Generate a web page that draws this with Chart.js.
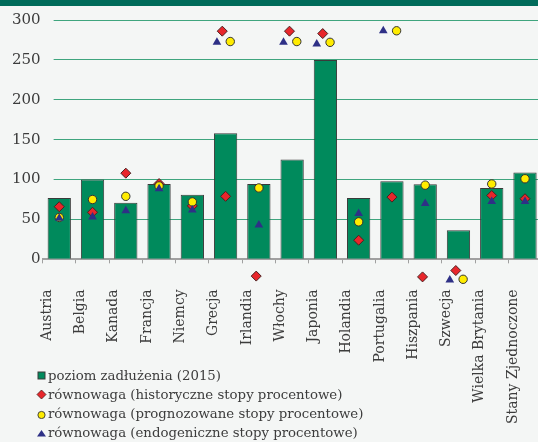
<!DOCTYPE html>
<html lang="pl">
<head>
<meta charset="UTF-8">
<title>Poziom zadłużenia i równowaga</title>
<script src="https://cdn.jsdelivr.net/npm/chart.js"></script>
<style>
  html, body { margin: 0; padding: 0; background: #f4f6f5; }
  #wrap { position: relative; width: 538px; height: 442px; overflow: hidden; background: #f4f6f5; }
  #topbar { position: absolute; left: 0; top: 0; width: 538px; height: 6px; background: #006b5a; z-index: 2; }
  #chart { position: absolute; left: 0; top: 0; }
  #legend { position: absolute; left: 36px; top: 366px; font-family: 'DejaVu Serif'; font-size: 13.3px; color: #3c3c3c; line-height: 19px; }
  #legend div { display: flex; align-items: center; white-space: nowrap; }
  #legend svg { width: 11px; height: 11px; margin-right: 1px; }
</style>
</head>
<body>
<div id="wrap">
  <div id="topbar"></div>
  <canvas id="chart" width="568" height="464"></canvas>
  <div id="legend"></div>
</div>
<script>
const kraje = ['Austria', 'Belgia', 'Kanada', 'Francja', 'Niemcy', 'Grecja', 'Irlandia', 'Włochy',
  'Japonia', 'Holandia', 'Portugalia', 'Hiszpania', 'Szwecja', 'Wielka Brytania', 'Stany Zjednoczone'];

// poziom zadłużenia (2015), % PKB
const zadluzenie = [77, 100, 71, 94.5, 81, 158, 94.5, 125, 250, 77, 98, 94, 36.5, 89.5, 109];

// równowaga - trzy warianty stóp procentowych
const historyczne = [66, 59, 108, 95, 67, 79, -21, 286, 283, 24, 78, -22, -14, 80, 76];
const historyczneDodatkowe = [null, null, null, null, null, 286, null, null, null, null, null, null, null, null, null];
const prognozowane = [52.5, 75, 79, 92, 72, 273, 89.5, 273, 272, 47, 286.5, 93, -25, 94.5, 101];
const endogeniczne = [51.5, 53, 61, 88.5, 62, 272, 43, 272, 270, 57.5, 286.5, 70, -26, 72.5, 72.5];

const etykiety = [
  'poziom zadłużenia (2015)',
  'równowaga (historyczne stopy procentowe)',
  'równowaga (prognozowane stopy procentowe)',
  'równowaga (endogeniczne stopy procentowe)'
];

// punkty poza skalą są lekko rozsunięte, żeby się nie zasłaniały
function punkty(wartosci, przesuniecie) {
  const out = [];
  wartosci.forEach((v, i) => {
    if (v === null) return;
    const poza = v > 260 || v < 0;
    out.push({ x: i + (poza ? przesuniecie : 0), y: v });
  });
  return out;
}

// linie siatki zaczynają się nieco na prawo od osi
const odstepSiatki = {
  id: 'odstepSiatki',
  beforeDatasetsDraw(chart) {
    const a = chart.chartArea, ctx = chart.ctx;
    ctx.save();
    ctx.fillStyle = '#f4f6f5';
    ctx.fillRect(a.left - 1, a.top - 2, 12, a.bottom - a.top);
    ctx.restore();
  }
};

// punkty poniżej zera leżą poza obszarem wykresu - Chart.js ich nie rysuje, więc dorysowujemy
const ponizejOsi = {
  id: 'ponizejOsi',
  afterDatasetsDraw(chart) {
    const bottom = chart.chartArea.bottom;
    chart.getSortedVisibleDatasetMetas()
      .filter(m => m.type === 'scatter')
      .sort((a, b) => b.order - a.order)
      .forEach(m => m.data.forEach(p => { if (p.y > bottom) p.draw(chart.ctx); }));
  }
};

Chart.defaults.font.family = 'DejaVu Serif';
Chart.defaults.color = '#3c3c3c';

const diament = { type: 'scatter', parsing: false, clip: false, pointStyle: 'rectRot', pointRadius: 5,
  pointBackgroundColor: '#e8262b', pointBorderColor: '#4a2020', pointBorderWidth: 1, order: 3 };

new Chart(document.getElementById('chart'), {
  type: 'bar',
  data: {
    labels: kraje,
    datasets: [
      { type: 'bar', label: etykiety[0], data: zadluzenie, backgroundColor: '#008a5c', grouped: false,
        borderColor: '#3a3a3a', borderWidth: 1, barPercentage: 0.7, categoryPercentage: 1, order: 5 },
      Object.assign({ label: etykiety[1], data: punkty(historyczne, -0.08) }, diament),
      Object.assign({ label: etykiety[1] + ' ', data: punkty(historyczneDodatkowe, -0.1) }, diament),
      { type: 'scatter', parsing: false, clip: false, label: etykiety[2], data: punkty(prognozowane, 0.14),
        pointStyle: 'circle', pointRadius: 4.2, pointBackgroundColor: '#ffec00', pointBorderColor: '#333',
        pointBorderWidth: 1, order: 2 },
      { type: 'scatter', parsing: false, clip: false, label: etykiety[3], data: punkty(endogeniczne, -0.26),
        pointStyle: 'triangle', pointRadius: 5, pointBackgroundColor: '#2e3086', pointBorderColor: '#2e3086',
        pointBorderWidth: 0, order: 1 }
    ]
  },
  options: {
    responsive: false,
    animation: false,
    layout: { padding: { left: 10, top: 20, right: 0, bottom: 14 } },
    plugins: { legend: { display: false }, tooltip: { enabled: false } },
    scales: {
      x: {
        offset: true,
        grid: { offset: true, drawOnChartArea: false, drawTicks: true, tickLength: 4, color: '#a0a0a0' },
        border: { color: '#a0a0a0', width: 2 },
        ticks: { autoSkip: false, minRotation: 90, maxRotation: 90, padding: 26, labelOffset: -12,
          font: { size: 14 } }
      },
      y: {
        min: 0, max: 300,
        ticks: { stepSize: 50, padding: 2, font: { size: 15 } },
        grid: { color: '#3fa57e', drawTicks: false },
        border: { display: false }
      }
    }
  },
  plugins: [odstepSiatki, ponizejOsi]
});

// legenda
const znaczniki = [
  '<svg viewBox="0 0 11 11"><rect x="2" y="2" width="7" height="7" fill="#008a5c" stroke="#3a3a3a" stroke-width="1"/></svg>',
  '<svg viewBox="0 0 11 11"><polygon points="5.5,1 10,5.5 5.5,10 1,5.5" fill="#e8262b" stroke="#4a2020" stroke-width="0.8"/></svg>',
  '<svg viewBox="0 0 11 11"><circle cx="5.5" cy="7" r="3.6" fill="#ffec00" stroke="#333" stroke-width="0.9"/></svg>',
  '<svg viewBox="0 0 11 11"><polygon points="5.5,3 10,9.5 1,9.5" fill="#2e3086"/></svg>'
];
document.getElementById('legend').innerHTML = etykiety
  .map((t, i) => '<div>' + znaczniki[i] + '<span>' + t + '</span></div>').join('');
</script>
</body>
</html>
